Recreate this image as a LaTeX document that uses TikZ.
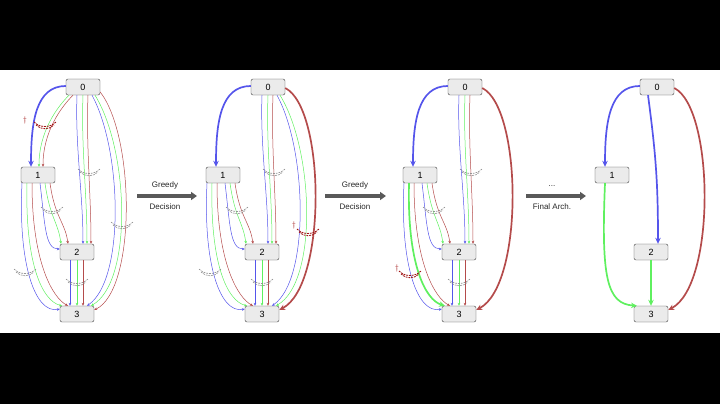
\documentclass[tikz,border=0pt]{standalone}
\usepackage{fontspec}
\setmainfont{Liberation Sans}
\usetikzlibrary{arrows.meta}
\definecolor{cb}{RGB}{85,85,235}
\definecolor{cg}{RGB}{95,240,95}
\definecolor{cr}{RGB}{180,75,75}
\definecolor{opg}{RGB}{140,140,140}
\definecolor{opr}{RGB}{160,20,20}
\tikzset{
 nd/.style={draw=black!75,fill=black!8,rounded corners=2pt,minimum width=34pt,minimum height=16pt,inner sep=0pt,font=\fontsize{9}{10}\selectfont},
 thn/.style={line width=0.5pt,-{Stealth[length=3pt,width=2.6pt]}},
 thk/.style={line width=1.7pt,-{Stealth[length=6pt,width=5.5pt]}},
 bigarrow/.style={line width=3.5pt,black!65,-{Triangle[length=6pt,width=8pt]}},
 lbl/.style={font=\fontsize{8}{9}\selectfont,text=black!85}
}
\newcommand\opmark[4]{% color, width, x, y
 \draw[#1,line width=#2,dash pattern=on 1.8pt off 1pt] (#3-11,#4-3) .. controls (#3-5,#4+3) and (#3+5,#4+3) .. (#3+11,#4-3);
 \draw[#1,line width=#2,dash pattern=on 1.8pt off 1pt] (#3-9,#4) .. controls (#3-4,#4+5) and (#3+4,#4+5) .. (#3+9,#4);
}
\newcommand\grayop[2]{\opmark{opg}{0.6pt}{#1}{#2}}
\newcommand\redop[4]{\opmark{opr}{0.9pt}{#1}{#2}\node[text=opr,font=\fontsize{8}{8}\selectfont] at (#3,#4) {$\dagger$};}
\newcommand\drawpanel[3]{%
\begin{scope}[xshift=#1]
\node[nd] (#3n0) at (83,87) {0};
\node[nd] (#3n1) at (38,175) {1};
\node[nd] (#3n2) at (77,252) {2};
\node[nd] (#3n3) at (77,314) {3};
% 0-1
\draw[thk,cb] ([yshift=1]#3n0.west) .. controls +(-30,0) and +(0,-45) .. ([xshift=-7]#3n1.north);
\ifnum#2=1
 \draw[thn,cg] ([xshift=-14]#3n0.south) .. controls +(-12,12) and +(0,-35) .. ([xshift=1]#3n1.north);
 \draw[thn,cr] ([xshift=-10]#3n0.south) .. controls +(-12,12) and +(0,-35) .. ([xshift=5]#3n1.north);
 \redop{45}{125}{25}{120}
\fi
% 0-2
\ifnum#2<4
 \draw[thn,cb] ([xshift=-6]#3n0.south) .. controls +(-2,50) and +(0,-50) .. ([xshift=6]#3n2.north);
 \draw[thn,cg] ([xshift=0]#3n0.south) .. controls +(-2,50) and +(0,-50) .. ([xshift=10]#3n2.north);
 \draw[thn,cr] ([xshift=5]#3n0.south) .. controls +(-2,50) and +(0,-50) .. ([xshift=14]#3n2.north);
 \grayop{89}{172}
\else
 \draw[thk,cb] ([xshift=-9]#3n0.south) .. controls +(8,60) and +(0,-60) .. ([xshift=7]#3n2.north);
\fi
% 0-3
\ifnum#2<3
 \draw[thn,cb] ([xshift=9]#3n0.south) .. controls +(30,55) and +(38,-26) .. ([xshift=10]#3n3.north);
 \draw[thn,cg] ([xshift=12]#3n0.south) .. controls +(34,55) and +(42,-24) .. ([xshift=14]#3n3.north);
\fi
\ifnum#2=1
 \draw[thn,cr] ([yshift=-5]#3n0.east) .. controls +(35,45) and +(42,-20) .. ([yshift=4]#3n3.east);
 \grayop{122}{225}
\else
 \draw[thk,cr] ([yshift=-1]#3n0.east) .. controls +(40,20) and +(48,-25) .. ([yshift=4]#3n3.east);
\fi
\ifnum#2=2 \redop{123}{232}{109}{225}\fi
% 1-2
\ifnum#2<4
 \draw[thn,cb] ([xshift=2]#3n1.south) .. controls +(5,40) and +(-15,0) .. ([yshift=3]#3n2.west);
 \draw[thn,cg] ([xshift=7]#3n1.south) .. controls +(5,35) and +(-3,-22) .. ([xshift=-16]#3n2.north);
 \draw[thn,cr] ([xshift=12]#3n1.south) .. controls +(5,35) and +(-3,-22) .. ([xshift=-9]#3n2.north);
 \grayop{52}{210}
\fi
% 1-3
\ifnum#2<4
 \draw[thn,cb] ([xshift=-16]#3n1.south) .. controls +(-4,80) and +(-25,5) .. ([yshift=5]#3n3.west);
 \ifnum#2=3
  \draw[thk,cg] ([xshift=-11]#3n1.south) .. controls +(-2,80) and +(-20,-6) .. ([xshift=-14]#3n3.north);
  \redop{28}{274}{15}{268}
 \else
  \draw[thn,cg] ([xshift=-11]#3n1.south) .. controls +(-2,80) and +(-20,-5) .. ([xshift=-15]#3n3.north);
  \grayop{25}{272}
 \fi
 \draw[thn,cr] ([xshift=-6]#3n1.south) .. controls +(0,80) and +(-15,-8) .. ([xshift=-9]#3n3.north);
\else
 \draw[thk,cg] ([xshift=-7]#3n1.south) .. controls +(-4,95) and +(-30,-2) .. ([xshift=-14]#3n3.north);
\fi
% 2-3
\ifnum#2<4
 \draw[thn,cb] ([xshift=-7]#3n2.south) -- ([xshift=-7]#3n3.north);
 \draw[thn,cg] ([xshift=0]#3n2.south) -- ([xshift=0]#3n3.north);
 \draw[thn,cr] ([xshift=6]#3n2.south) -- ([xshift=6]#3n3.north);
 \grayop{77}{282}
\else
 \draw[thk,cg] (#3n2.south) -- (#3n3.north);
\fi
\end{scope}}
\begin{document}
\begin{tikzpicture}[x=1pt,y=-1pt]
\useasboundingbox (0,0) rectangle (720,404);
\fill[black] (0,0) rectangle (720,70);
\fill[black] (0,333) rectangle (720,404);
\drawpanel{0}{1}{a}
\drawpanel{185}{2}{b}
\drawpanel{382}{3}{c}
\drawpanel{574}{4}{d}
\coordinate (s1) at (137,196); \coordinate (e1) at (197,196);
\coordinate (s2) at (325,196); \coordinate (e2) at (386,196);
\coordinate (s3) at (526,196); \coordinate (e3) at (586,196);
\draw[bigarrow] (s1) -- (e1);
\draw[bigarrow] (s2) -- (e2);
\draw[bigarrow] (s3) -- (e3);
\node[lbl] (g1) at (165,185) {Greedy};
\node[lbl] (d1) at (165,207) {Decision};
\node[lbl] (g2) at (355,185) {Greedy};
\node[lbl] (d2) at (355,207) {Decision};
\node[lbl] (g3) at (552,186) {...};
\node[lbl] (d3) at (552,207) {Final Arch.};
\end{tikzpicture}
\end{document}
